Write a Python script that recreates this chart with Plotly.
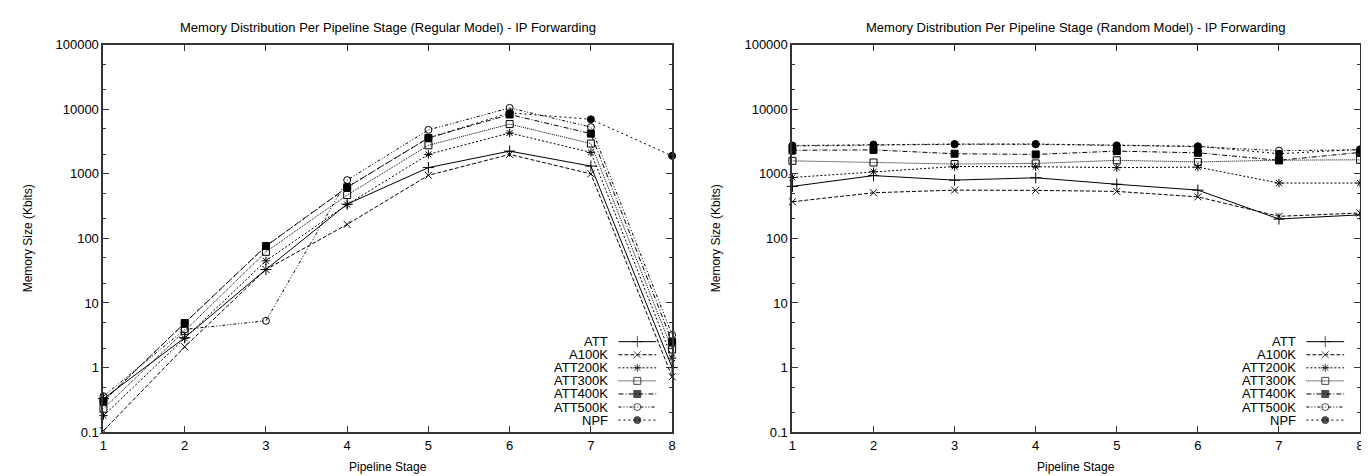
import plotly.graph_objects as go

W, H = 1369, 476

stages = [1, 2, 3, 4, 5, 6, 7, 8]
series_names = ["ATT", "A100K", "ATT200K", "ATT300K", "ATT400K", "ATT500K", "NPF"]

# Regular model (left)
reg_att = [0.33, 2.9, 33, 340, 1250, 2250, 1320, 1.0]
reg_a100k = [0.105, 2.1, 33, 165, 950, 2000, 1000, 0.72]
reg_att200k = [0.18, 2.85, 45, 335, 2000, 4300, 2150, 1.4]
reg_att300k = [0.23, 3.7, 62, 470, 2770, 5900, 2950, 1.9]
reg_att400k = [0.30, 4.9, 76, 620, 3600, 8300, 4200, 2.5]
reg_att500k = [0.36, 3.9, 5.3, 800, 4800, 10500, 5300, 3.2]
reg_npf = [0.30, 4.9, 76, 620, 3600, 8800, 7000, 1900]

# Random model (right)
rnd_att = [640, 940, 800, 870, 690, 560, 200, 232]
rnd_a100k = [370, 510, 560, 555, 535, 440, 220, 248]
rnd_att200k = [880, 1080, 1300, 1290, 1250, 1270, 720, 720]
rnd_att300k = [1590, 1500, 1420, 1450, 1620, 1530, 1630, 1650]
rnd_att400k = [2320, 2350, 2050, 2000, 2250, 2120, 1620, 2150]
rnd_att500k = [2700, 2800, 2870, 2870, 2720, 2640, 2290, 2350]
rnd_npf = [2750, 2850, 2900, 2900, 2760, 2680, 2050, 2400]

y_tick_vals = [0.1, 1, 10, 100, 1000, 10000, 100000]
y_tick_text = ["0.1", "1", "10", "100", "1000", "10000", "100000"]
y_minor_vals = [m * 10 ** e for e in range(-1, 5) for m in (2, 5)]

titles = ["Memory Distribution Per Pipeline Stage (Regular Model) - IP Forwarding",
          "Memory Distribution Per Pipeline Stage (Random Model) - IP Forwarding"]
x_title = "Pipeline Stage"
y_title = "Memory Size (Kbits)"

styles = {
    "ATT": dict(dash="solid", symbol="cross-thin-open", size=8),
    "A100K": dict(dash="4px,2px", symbol="x-thin-open", size=7),
    "ATT200K": dict(dash="2px,2px", symbol="asterisk-open", size=7),
    "ATT300K": dict(dash="1px,1px", symbol="square-open", size=7),
    "ATT400K": dict(dash="5px,2px,1px,2px", symbol="square", size=7),
    "ATT500K": dict(dash="3px,2px,1px,2px,1px,2px", symbol="circle-open", size=7),
    "NPF": dict(dash="2px,3px", symbol="circle", size=7),
}

left_data = [reg_att, reg_a100k, reg_att200k, reg_att300k, reg_att400k, reg_att500k, reg_npf]
right_data = [rnd_att, rnd_a100k, rnd_att200k, rnd_att300k, rnd_att400k, rnd_att500k, rnd_npf]

FONT = "Liberation Sans, Arial, Helvetica, sans-serif"
INK = "#000000"

# plot-area geometry in pixels
left_px = (92, 664)
right_px = (785, 1356)
top_px, bot_px = 30.7, 430.7

fig = go.Figure()

for data, xa, ya in [(left_data, "x", "y"), (right_data, "x2", "y2")]:
    for name, vals in zip(series_names, data):
        st = styles[name]
        fig.add_trace(go.Scatter(
            x=stages, y=vals, mode="lines+markers", name=name, showlegend=False,
            xaxis=xa, yaxis=ya, cliponaxis=False,
            line=dict(color=INK, width=1, dash=st["dash"]),
            marker=dict(symbol=st["symbol"], size=st["size"], color=INK,
                        line=dict(color=INK, width=1)),
        ))

# custom gnuplot-like legends (text right-aligned, sample on the right)
row0, row_step = 337.3, 13.5
annotations = []
for (px0, px1) in [left_px, right_px]:
    text_right = px1 - 62
    s0, s1 = px1 - 54, px1 - 16
    for i, name in enumerate(series_names):
        st = styles[name]
        yy = row0 + i * row_step
        fig.add_trace(go.Scatter(
            x=[s0, (s0 + s1) / 2, s1], y=[yy, yy, yy], mode="lines+markers",
            xaxis="x3", yaxis="y3", showlegend=False, hoverinfo="skip",
            line=dict(color=INK, width=1, dash=st["dash"]),
            marker=dict(symbol=st["symbol"], size=[0, st["size"], 0], color=INK,
                        line=dict(color=INK, width=1)),
        ))
        annotations.append(dict(
            x=text_right / W, y=1 - yy / H, xref="paper", yref="paper",
            text=name, showarrow=False, xanchor="right", yanchor="middle",
            font=dict(family=FONT, size=13, color=INK),
        ))
    cx = (px0 + px1) / 2
    annotations.append(dict(
        x=cx / W, y=1 - 467 / H, xref="paper", yref="paper", text=x_title,
        showarrow=False, xanchor="center", yanchor="middle",
        font=dict(family=FONT, size=12, color=INK)))

for i, (px0, px1) in enumerate([left_px, right_px]):
    cx = (px0 + px1) / 2
    annotations.append(dict(
        x=cx / W, y=1 - 13 / H, xref="paper", yref="paper", text=titles[i],
        showarrow=False, xanchor="center", yanchor="middle",
        font=dict(family=FONT, size=13, color=INK)))

for xpos in [17, 709]:
    annotations.append(dict(
        x=xpos / W, y=1 - ((top_px + bot_px) / 2) / H, xref="paper", yref="paper",
        text=y_title, showarrow=False, textangle=-90, xanchor="center", yanchor="middle",
        font=dict(family=FONT, size=12, color=INK)))

axis_common = dict(
    showline=True, linecolor="#333333", linewidth=2, mirror="ticks",
    ticks="inside", tickcolor="#333333", tickwidth=1, ticklen=6,
    showgrid=False, zeroline=False,
    tickfont=dict(family=FONT, size=13, color=INK),
)

ydom = [1 - bot_px / H, 1 - top_px / H]

def xaxis(px):
    return dict(axis_common, domain=[px[0] / W, px[1] / W], range=[1, 8],
                tickmode="array", tickvals=stages, ticktext=[str(s) for s in stages])

def yaxis():
    return dict(axis_common, domain=ydom, type="log", range=[-1, 5],
                tickmode="array", tickvals=y_tick_vals, ticktext=y_tick_text,
                minor=dict(tickmode="array", tickvals=y_minor_vals, ticks="inside",
                           ticklen=3, tickcolor="#333333", tickwidth=1, showgrid=False))

fig.update_layout(
    width=W, height=H,
    margin=dict(l=0, r=0, t=0, b=0),
    paper_bgcolor="white", plot_bgcolor="rgba(0,0,0,0)",
    showlegend=False,
    xaxis=dict(xaxis(left_px), anchor="y"),
    yaxis=dict(yaxis(), anchor="x"),
    xaxis2=dict(xaxis(right_px), anchor="y2"),
    yaxis2=dict(yaxis(), anchor="x2"),
    xaxis3=dict(domain=[0, 1], range=[0, W], visible=False, anchor="y3", fixedrange=True),
    yaxis3=dict(domain=[0, 1], range=[H, 0], visible=False, anchor="x3", fixedrange=True),
    annotations=annotations,
    font=dict(family=FONT, color=INK),
)

fig.write_html("out.html")
